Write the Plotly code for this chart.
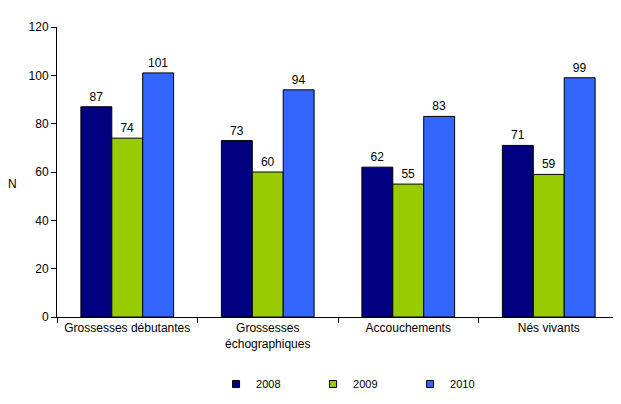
import plotly.graph_objs as go

# Data
categories = ["Grossesses débutantes", "Grossesses<br>échographiques", "Accouchements", "Nés vivants"]
years = ["2008", "2009", "2010"]
values_2008 = [87, 73, 62, 71]
values_2009 = [74, 60, 55, 59]
values_2010 = [101, 94, 83, 99]
colors = ["#000080", "#99CC00", "#3366FF"]

fig = go.Figure()

for year, vals, col in zip(years, [values_2008, values_2009, values_2010], colors):
    fig.add_trace(go.Bar(
        x=categories,
        y=vals,
        name=year,
        marker=dict(color=col, line=dict(color="black", width=1)),
        text=vals,
        textposition="outside",
        textfont=dict(color="black", size=12),
        cliponaxis=False,
        showlegend=False
    ))
    # small square legend entry
    fig.add_trace(go.Scatter(
        x=[None], y=[None],
        mode="markers",
        name=year,
        marker=dict(symbol="square", size=7, color=col, line=dict(color="black", width=1))
    ))

# page body has an 8px margin, so the figure is a bit smaller than the window
fig.update_layout(
    width=613,
    height=396,
    margin=dict(l=49, r=2, t=19, b=87, autoexpand=False),
    paper_bgcolor="white",
    plot_bgcolor="white",
    font=dict(family="Liberation Sans, Arial", size=12, color="black"),
    barmode="group",
    bargap=0.34,
    bargroupgap=0,
    showlegend=True,
    legend=dict(
        orientation="h",
        x=0.283, xanchor="left",
        y=-0.181, yanchor="top",
        font=dict(size=11),
        itemwidth=30,
        entrywidth=52,
        entrywidthmode="pixels"
    ),
    annotations=[dict(
        text="N", xref="paper", yref="paper",
        x=-0.091, y=0.46, showarrow=False,
        font=dict(size=12)
    )]
)

fig.update_yaxes(
    range=[0, 120],
    dtick=20,
    showgrid=False,
    showline=True,
    linecolor="black",
    linewidth=1,
    ticks="outside",
    ticklen=5,
    tickcolor="black",
    zeroline=False,
    tickfont=dict(size=12)
)

fig.update_xaxes(
    showline=True,
    linecolor="black",
    linewidth=1,
    ticks="outside",
    tickson="boundaries",
    ticklen=5,
    tickcolor="black",
    tickfont=dict(size=12),
    tickangle=0
)

fig.write_html("out.html")
